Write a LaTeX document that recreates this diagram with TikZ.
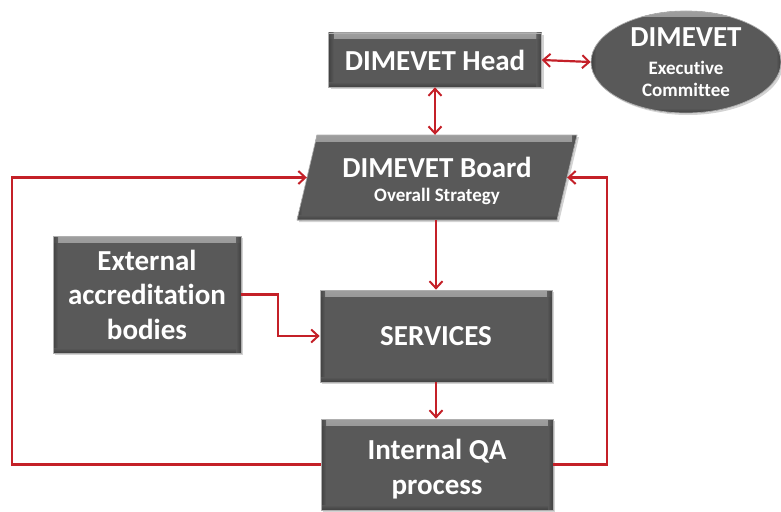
\documentclass[tikz,border=0pt]{standalone}
\usepackage{fontspec}
\setmainfont[Ligatures=NoCommon]{Carlito}
\usetikzlibrary{arrows.meta,shapes.geometric,shadows}
\definecolor{boxgray}{RGB}{89,89,89}
\definecolor{linered}{RGB}{196,32,40}
\definecolor{edgegray}{RGB}{175,175,175}
\tikzset{
  bevel/.style={
    path picture={
      \fill[top color=black!38, bottom color=boxgray]
        (path picture bounding box.north west) rectangle ([yshift=-6pt]path picture bounding box.north east);
      \fill[left color=black!78, right color=boxgray, opacity=0.7]
        (path picture bounding box.north west) rectangle ([xshift=5pt]path picture bounding box.south west);
      \fill[top color=boxgray, bottom color=black!78, opacity=0.7]
        ([yshift=5pt]path picture bounding box.south west) rectangle (path picture bounding box.south east);
      \fill[left color=boxgray, right color=black!78, opacity=0.7]
        ([xshift=-5pt]path picture bounding box.north east) rectangle (path picture bounding box.south east);
    }},
  boxst/.style={draw=edgegray, line width=0.7pt, fill=boxgray, bevel,
    drop shadow={shadow xshift=2pt, shadow yshift=-2pt, opacity=0.35},
    text=white, font=\bfseries, align=center, inner sep=0pt},
  txt/.style={text=white, font=\bfseries, align=center, inner sep=0pt},
  conn/.style={draw=linered, line width=2.2pt, -{Straight Barb[length=7pt,width=13pt,line width=2pt]}},
  biconn/.style={draw=linered, line width=2.2pt, {Straight Barb[length=7pt,width=13pt,line width=2pt]}-{Straight Barb[length=7pt,width=13pt,line width=2pt]}},
}
\begin{document}
\begin{tikzpicture}[x=1pt,y=-1pt]
\useasboundingbox (0,0) rectangle (781,511);
% DIMEVET Head
\node[boxst, minimum width=213pt, minimum height=54pt, font=\fontsize{29}{33}\bfseries] (head) at (435,60) {DIMEVET Head};
% Executive committee ellipse
\node[boxst, ellipse, minimum width=190pt, minimum height=102pt, font=\fontsize{19}{22}\bfseries] (exec) at (686,62)
  {{\fontsize{29}{29}\selectfont DIMEVET}\\[6pt]Executive\\Committee};
% Board parallelogram
\path[draw=edgegray, line width=0.7pt, fill=boxgray, bevel,
  drop shadow={shadow xshift=2pt, shadow yshift=-2pt, opacity=0.35}]
  (317,135) -- (577,135) -- (557,220) -- (297,220) -- cycle;
\node[txt, minimum width=260pt, minimum height=85pt, font=\fontsize{19}{22}\bfseries] (board) at (437,177.5)
  {\rule{0pt}{28pt}{\fontsize{29}{29}\selectfont DIMEVET Board}\\[2pt]Overall Strategy};
% External
\node[boxst, minimum width=188pt, minimum height=117pt, font=\fontsize{29}{34.5}\bfseries] (ext) at (147,294.5)
  {External\\accreditation\\bodies};
% Services
\node[boxst, minimum width=232pt, minimum height=92pt, font=\fontsize{29}{33}\bfseries] (serv) at (436,336) {SERVICES};
% Internal QA
\node[boxst, minimum width=232pt, minimum height=91pt, font=\fontsize{29}{35.5}\bfseries] (qa) at (437,464.5) {\rule{0pt}{30pt}Internal QA\\process};
% connectors
\draw[biconn] (head.east) -- (exec.west);
\draw[biconn] (head.south) -- (head.south |- board.north);
\draw[conn] (board.south -| serv.north) -- (serv.north);
\draw[conn] (serv.south) -- (serv.south |- qa.north);
\draw[conn] (ext.east) -- ++(37,0) |- (serv.west);
\draw[conn] (qa.west) -- ++(-309,0) |- (board.west);
\draw[conn] (qa.east) -- ++(54,0) |- (board.east);
\end{tikzpicture}
\end{document}
